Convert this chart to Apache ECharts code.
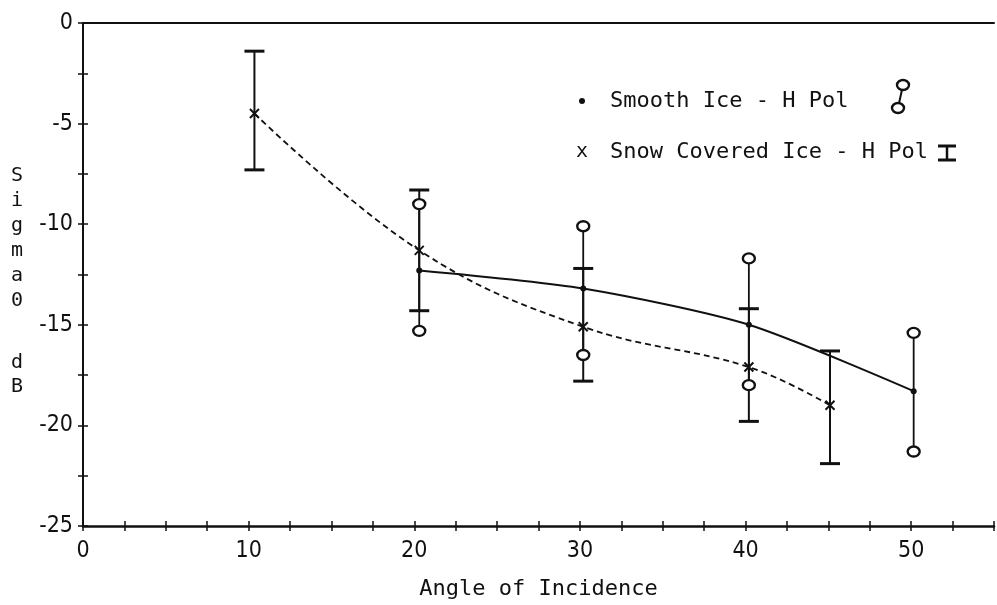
<!DOCTYPE html>
<html>
<head>
<meta charset="utf-8">
<script src="https://cdn.jsdelivr.net/npm/echarts@6/dist/echarts.min.js"></script>
<style>
  html, body { margin: 0; padding: 0; background: #fff; }
  #chart { width: 997px; height: 605px; }
</style>
</head>
<body>
<div id="chart"></div>
<script>
var chart = echarts.init(document.getElementById('chart'));

// snow covered ice - H pol (x marks, dashed line, I-bars)
var snowAngle = [10.35, 20.3, 30.2, 40.2, 45.1];
var snowMean = [-4.5, -11.3, -15.1, -17.1, -19.0];
var snowHigh = [-1.4, -8.3, -12.2, -14.2, -16.3];
var snowLow = [-7.3, -14.3, -17.8, -19.8, -21.9];

// smooth ice - H pol (dots, solid line, circle-ended bars)
var smoothAngle = [20.3, 30.2, 40.2, 50.15];
var smoothMean = [-12.3, -13.2, -15.0, -18.3];
var smoothHigh = [-9.0, -10.1, -11.7, -15.4];
var smoothLow = [-15.3, -16.5, -18.0, -21.3];

var ink = '#111';
var monoFont = '"DejaVu Sans Mono", monospace';
var tickFont = '"Liberation Sans Narrow", "DejaVu Sans Condensed", "Liberation Sans", sans-serif';

function pairs(xs, ys) {
    return xs.map(function (x, i) { return [x, ys[i]]; });
}
function triples(xs, hi, lo) {
    return xs.map(function (x, i) { return [x, hi[i], lo[i]]; });
}

function snowBar(params, api) {
    var top = api.coord([api.value(0), api.value(1)]);
    var bot = api.coord([api.value(0), api.value(2)]);
    var w = 10;
    return {
        type: 'group',
        children: [
            { type: 'line', shape: { x1: top[0], y1: top[1], x2: bot[0], y2: bot[1] }, style: { stroke: ink, lineWidth: 2 } },
            { type: 'line', shape: { x1: top[0] - w, y1: top[1], x2: top[0] + w, y2: top[1] }, style: { stroke: ink, lineWidth: 3 } },
            { type: 'line', shape: { x1: bot[0] - w, y1: bot[1], x2: bot[0] + w, y2: bot[1] }, style: { stroke: ink, lineWidth: 3 } }
        ]
    };
}

function smoothBar(params, api) {
    var top = api.coord([api.value(0), api.value(1)]);
    var bot = api.coord([api.value(0), api.value(2)]);
    return {
        type: 'group',
        children: [
            { type: 'line', shape: { x1: top[0], y1: top[1], x2: bot[0], y2: bot[1] }, style: { stroke: ink, lineWidth: 1.8 } },
            { type: 'ellipse', shape: { cx: top[0], cy: top[1], rx: 6, ry: 5 }, style: { fill: '#fff', stroke: ink, lineWidth: 2.4 } },
            { type: 'ellipse', shape: { cx: bot[0], cy: bot[1], rx: 6, ry: 5 }, style: { fill: '#fff', stroke: ink, lineWidth: 2.4 } }
        ]
    };
}

var xMark = 'path://M0,0L10,10M10,0L0,10';

option = {
    backgroundColor: '#fff',
    animation: false,
    grid: { left: 83, right: 0, top: 23, bottom: 78 },
    xAxis: [
        {
            type: 'value', min: 0, max: 55, interval: 2.5, position: 'bottom',
            name: 'Angle of Incidence', nameLocation: 'middle', nameGap: 52,
            nameTextStyle: { fontFamily: monoFont, fontSize: 22, color: ink },
            axisLine: { onZero: false, lineStyle: { color: ink, width: 2.5 } },
            axisTick: { inside: false, length: 5, lineStyle: { color: ink, width: 1.5 } },
            axisLabel: {
                margin: 14, fontFamily: tickFont, fontSize: 23, color: ink,
                formatter: function (v) { return v % 10 === 0 ? String(v) : ''; }
            },
            splitLine: { show: false }
        },
        {
            type: 'value', min: 0, max: 55, position: 'top',
            axisLine: { onZero: false, lineStyle: { color: ink, width: 2 } },
            axisTick: { show: false }, axisLabel: { show: false }, splitLine: { show: false }
        },
        {
            type: 'value', min: 0, max: 55, interval: 2.5, position: 'bottom',
            axisLine: { show: false, onZero: false },
            axisTick: { inside: true, length: 5, lineStyle: { color: ink, width: 1.5 } },
            axisLabel: { show: false }, splitLine: { show: false }
        }
    ],
    yAxis: [
        {
            type: 'value', min: -25, max: 0, interval: 2.5, position: 'left',
            axisLine: { onZero: false, lineStyle: { color: ink, width: 2 } },
            axisTick: { inside: false, length: 5, lineStyle: { color: ink, width: 1.5 } },
            axisLabel: {
                margin: 10, fontFamily: tickFont, fontSize: 23, color: ink,
                formatter: function (v) { return v % 5 === 0 ? String(v) : ''; }
            },
            splitLine: { show: false }
        },
        {
            type: 'value', min: -25, max: 0, interval: 2.5, position: 'left',
            axisLine: { show: false, onZero: false },
            axisTick: { inside: true, length: 5, lineStyle: { color: ink, width: 1.5 } },
            axisLabel: { show: false }, splitLine: { show: false }
        }
    ],
    graphic: [
        // y axis title, one letter per line
        { type: 'text', left: 11, top: 163, style: { text: 'S\ni\ng\nm\na\n0', font: '20px ' + monoFont, fill: ink, lineHeight: 25 } },
        { type: 'text', left: 11, top: 351, style: { text: 'd\nB', font: '20px ' + monoFont, fill: ink, lineHeight: 24 } },
        // legend
        { type: 'circle', shape: { cx: 582, cy: 101, r: 3 }, style: { fill: ink } },
        { type: 'text', x: 610, y: 101, style: { text: 'Smooth Ice - H Pol', font: '22px ' + monoFont, fill: ink, verticalAlign: 'middle' } },
        { type: 'line', shape: { x1: 903, y1: 85, x2: 898, y2: 108 }, style: { stroke: ink, lineWidth: 2 } },
        { type: 'ellipse', shape: { cx: 903, cy: 85, rx: 6, ry: 5 }, style: { fill: '#fff', stroke: ink, lineWidth: 2.4 } },
        { type: 'ellipse', shape: { cx: 898, cy: 108, rx: 6, ry: 5 }, style: { fill: '#fff', stroke: ink, lineWidth: 2.4 } },
        { type: 'text', x: 576, y: 152, style: { text: 'x', font: '20px ' + monoFont, fill: ink, verticalAlign: 'middle' } },
        { type: 'text', x: 610, y: 152, style: { text: 'Snow Covered Ice - H Pol', font: '22px ' + monoFont, fill: ink, verticalAlign: 'middle' } },
        { type: 'line', shape: { x1: 947, y1: 146, x2: 947, y2: 160 }, style: { stroke: ink, lineWidth: 2.5 } },
        { type: 'line', shape: { x1: 938, y1: 146, x2: 956, y2: 146 }, style: { stroke: ink, lineWidth: 3 } },
        { type: 'line', shape: { x1: 938, y1: 160, x2: 956, y2: 160 }, style: { stroke: ink, lineWidth: 3 } }
    ],
    series: [
        {
            name: 'Snow Covered Ice - H Pol error', type: 'custom',
            renderItem: snowBar, data: triples(snowAngle, snowHigh, snowLow), z: 2
        },
        {
            name: 'Smooth Ice - H Pol error', type: 'custom',
            renderItem: smoothBar, data: triples(smoothAngle, smoothHigh, smoothLow), z: 3
        },
        {
            name: 'Snow Covered Ice - H Pol', type: 'line', smooth: 0.4,
            data: pairs(snowAngle, snowMean),
            lineStyle: { color: ink, width: 1.8, type: [6, 4] },
            symbol: xMark, symbolSize: 9,
            itemStyle: { color: 'rgba(0,0,0,0)', borderColor: ink, borderWidth: 2 },
            z: 4
        },
        {
            name: 'Smooth Ice - H Pol', type: 'line', smooth: 0.25,
            data: pairs(smoothAngle, smoothMean),
            lineStyle: { color: ink, width: 2 },
            symbol: 'circle', symbolSize: 6,
            itemStyle: { color: ink },
            z: 5
        }
    ]
};
chart.setOption(option);
</script>
</body>
</html>
